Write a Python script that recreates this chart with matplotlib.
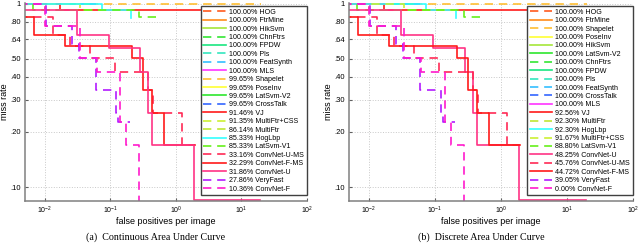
import matplotlib.pyplot as plt
from matplotlib.ticker import FixedLocator, NullLocator, LogLocator

# ---- step curves (fppi where a miss-rate level starts, miss rate) ----
hog_fppi = [0.004, 0.06]
hog_mr = [1.0, 1.0]
ftrmine_fppi = [0.004, 0.05]
ftrmine_mr = [1.0, 1.0]
hiksvm_fppi = [0.004, 0.045]
hiksvm_mr = [1.0, 1.0]
chnftrs_fppi = [0.004, 0.03]
chnftrs_mr = [1.0, 1.0]
fpdw_fppi = [0.004, 0.035]
fpdw_mr = [1.0, 1.0]
pls_fppi = [0.004, 0.04]
pls_mr = [1.0, 1.0]
featsynth_fppi = [0.004, 0.055]
featsynth_mr = [1.0, 1.0]
mls_fppi = [0.004, 0.02]
mls_mr = [1.0, 1.0]
shapelet_fppi = [0.004, 20.0]
shapelet_mr = [1.0, 1.0]
poseinv_fppi = [0.004, 0.05]
poseinv_mr = [1.0, 1.0]
latsvm2_fppi = [0.004, 0.05]
latsvm2_mr = [1.0, 1.0]
crosstalk_fppi = [0.004, 0.06]
crosstalk_mr = [1.0, 1.0]
vj_fppi = [0.004, 0.0169, 20.0]
vj_mr = [1.0, 0.928, 0.928]
multiftrcss_fppi = [0.004, 0.0343, 0.2]
multiftrcss_mr = [1.0, 0.925, 0.925]
multiftr_fppi = [0.004, 0.0101, 0.14]
multiftr_mr = [1.0, 0.925, 0.925]
hoglbp_fppi = [0.004, 0.0744, 0.207]
hoglbp_mr = [1.0, 0.928, 0.839]
latsvm1_fppi = [0.004, 0.00656, 0.274, 0.573]
latsvm1_mr = [1.0, 0.922, 0.850, 0.850]
convnet_u_ms_fppi = [0.004, 0.0132, 0.0241, 0.0487, 0.1175, 0.376, 0.448, 1.24, 1.97]
convnet_u_ms_mr = [0.850, 0.678, 0.591, 0.509, 0.422, 0.337, 0.252, 0.169, 0.169]
convnet_f_ms_fppi = [0.004, 0.0068, 0.0202, 0.214, 0.315, 0.433, 0.660, 1.97]
convnet_f_ms_mr = [0.850, 0.678, 0.591, 0.509, 0.337, 0.252, 0.169, 0.169]
convnet_u_fppi = [0.004, 0.0309, 0.0953, 0.284, 0.376, 0.433, 1.90, 19.4]
convnet_u_mr = [0.928, 0.678, 0.577, 0.422, 0.252, 0.169, 0.0845, 0.0845]
veryfast_fppi = [0.004, 0.0104, 0.0259, 0.0331, 0.0602, 0.122, 0.131, 0.200]
veryfast_mr = [1.0, 0.759, 0.606, 0.509, 0.337, 0.252, 0.226, 0.226]
convnet_f_fppi = [0.004, 0.0101, 0.0343, 0.0624, 0.140, 0.173, 0.274]
convnet_f_mr = [1.0, 0.759, 0.509, 0.422, 0.226, 0.169, 0.06]

# ---- legend entries (order and value as printed) ----
cont_names = ['HOG', 'FtrMine', 'HikSvm', 'ChnFtrs', 'FPDW', 'Pls', 'FeatSynth', 'MLS',
              'Shapelet', 'PoseInv', 'LatSvm-V2', 'CrossTalk', 'VJ', 'MultiFtr+CSS',
              'MultiFtr', 'HogLbp', 'LatSvm-V1', 'ConvNet-U-MS', 'ConvNet-F-MS',
              'ConvNet-U', 'VeryFast', 'ConvNet-F']
cont_auc = [100.00, 100.00, 100.00, 100.00, 100.00, 100.00, 100.00, 100.00,
            99.65, 99.65, 99.65, 99.65, 91.46, 91.35, 86.14, 85.33, 85.33,
            33.16, 32.29, 31.86, 27.86, 10.36]
disc_names = ['HOG', 'FtrMine', 'Shapelet', 'PoseInv', 'HikSvm', 'LatSvm-V2', 'ChnFtrs',
              'FPDW', 'Pls', 'FeatSynth', 'CrossTalk', 'MLS', 'VJ', 'MultiFtr', 'HogLbp',
              'MultiFtr+CSS', 'LatSvm-V1', 'ConvNet-U', 'ConvNet-U-MS', 'ConvNet-F-MS',
              'VeryFast', 'ConvNet-F']
disc_auc = [100.00, 100.00, 100.00, 100.00, 100.00, 100.00, 100.00, 100.00, 100.00,
            100.00, 100.00, 100.00, 92.56, 92.30, 92.30, 91.67, 88.80,
            48.25, 45.76, 44.72, 39.05, 0.00]

ytick_vals = [0.10, 0.20, 0.30, 0.40, 0.50, 0.64, 0.80, 1.0]
ytick_labels = ['.10', '.20', '.30', '.40', '.50', '.64', '.80', '1']

curves = {
    'HOG': (hog_fppi, hog_mr), 'FtrMine': (ftrmine_fppi, ftrmine_mr),
    'HikSvm': (hiksvm_fppi, hiksvm_mr), 'ChnFtrs': (chnftrs_fppi, chnftrs_mr),
    'FPDW': (fpdw_fppi, fpdw_mr), 'Pls': (pls_fppi, pls_mr),
    'FeatSynth': (featsynth_fppi, featsynth_mr), 'MLS': (mls_fppi, mls_mr),
    'Shapelet': (shapelet_fppi, shapelet_mr), 'PoseInv': (poseinv_fppi, poseinv_mr),
    'LatSvm-V2': (latsvm2_fppi, latsvm2_mr), 'CrossTalk': (crosstalk_fppi, crosstalk_mr),
    'VJ': (vj_fppi, vj_mr), 'MultiFtr+CSS': (multiftrcss_fppi, multiftrcss_mr),
    'MultiFtr': (multiftr_fppi, multiftr_mr), 'HogLbp': (hoglbp_fppi, hoglbp_mr),
    'LatSvm-V1': (latsvm1_fppi, latsvm1_mr),
    'ConvNet-U-MS': (convnet_u_ms_fppi, convnet_u_ms_mr),
    'ConvNet-F-MS': (convnet_f_ms_fppi, convnet_f_ms_mr),
    'ConvNet-U': (convnet_u_fppi, convnet_u_mr),
    'VeryFast': (veryfast_fppi, veryfast_mr), 'ConvNet-F': (convnet_f_fppi, convnet_f_mr),
}

DASH = (0, (5, 3.5))
styles = {
    'HOG': ('#ff5a1e', DASH), 'FtrMine': ('#ff8c1a', '-'), 'HikSvm': ('#a6e639', '-'),
    'ChnFtrs': ('#33e633', DASH), 'FPDW': ('#1ae680', '-'), 'Pls': ('#33e6bf', DASH),
    'FeatSynth': ('#33bfff', DASH), 'MLS': ('#ff33ff', '-'), 'Shapelet': ('#ffbf33', DASH),
    'PoseInv': ('#ffff33', '-'), 'LatSvm-V2': ('#2ee62e', '-'), 'CrossTalk': ('#3366ff', DASH),
    'VJ': ('#ff1a1a', '-'), 'MultiFtr+CSS': ('#ccf033', DASH), 'MultiFtr': ('#bfe633', DASH),
    'HogLbp': ('#33ffff', '-'), 'LatSvm-V1': ('#66f01a', DASH),
    'ConvNet-U-MS': ('#ff2a55', DASH), 'ConvNet-F-MS': ('#ff1a1a', '-'),
    'ConvNet-U': ('#ff3385', '-'), 'VeryFast': ('#b31aff', DASH), 'ConvNet-F': ('#ff1acc', DASH),
}

plt.rcParams['font.family'] = ['Liberation Sans', 'DejaVu Sans']
plt.rcParams['mathtext.fontset'] = 'custom'
plt.rcParams['mathtext.rm'] = 'Liberation Sans'

fig = plt.figure(figsize=(6.4, 2.45), dpi=100)
W, H = 640.0, 245.0


def draw_panel(left_px, width_px, names, aucs, caption, caption_x):
    ax = fig.add_axes([left_px / W, 1 - 201 / H, width_px / W, 198 / H])
    for n, a in zip(names, aucs):
        x, y = curves[n]
        c, ls = styles[n]
        ax.plot(x, y, drawstyle='steps-post', color=c, linestyle=ls, lw=1.2,
                label='%.2f%% %s' % (a, n))
    ax.set_xscale('log')
    ax.set_yscale('log')
    ax.set_xlim(10 ** -2.3, 100)
    ax.set_ylim(0.0839, 1.01)
    ax.xaxis.set_major_locator(LogLocator(base=10, numticks=10))
    ax.xaxis.set_minor_locator(NullLocator())
    ax.yaxis.set_major_locator(FixedLocator(ytick_vals))
    ax.yaxis.set_minor_locator(NullLocator())
    ax.set_yticklabels(ytick_labels)
    ax.grid(True, linestyle=':', color='#c8c8c8', lw=0.7)
    ax.set_axisbelow(True)
    for s in ['top', 'right']:
        ax.spines[s].set_visible(False)
    for s in ['left', 'bottom']:
        ax.spines[s].set_color('#808080')
        ax.spines[s].set_linewidth(1.1)
    ax.tick_params(direction='in', length=2.5, color='#606060', labelsize=5.5, pad=3)
    ax.tick_params(axis='x', labelsize=5, pad=2.5)
    ax.set_xlabel('false positives per image', fontsize=6.5, labelpad=1)
    ax.set_ylabel('miss rate', fontsize=6.5, labelpad=1)
    leg = ax.legend(loc='upper right', bbox_to_anchor=(1.0, 0.985), fontsize=5.1,
                    handlelength=3.2, handletextpad=0.45, labelspacing=0.2,
                    borderaxespad=0, borderpad=0.4, fancybox=False, framealpha=1)
    leg.get_frame().set_edgecolor('#404040')
    leg.get_frame().set_linewidth(1.0)
    fig.text(caption_x / W, 1 - 237 / H, caption, ha='center', va='center',
             fontsize=7.2, family='Liberation Serif')
    return ax


draw_panel(25, 282, cont_names, cont_auc, '(a)  Continuous Area Under Curve', 156)
draw_panel(349, 284, disc_names, disc_auc, '(b)  Discrete Area Under Curve', 481)

fig.savefig('out.png', dpi=100)
